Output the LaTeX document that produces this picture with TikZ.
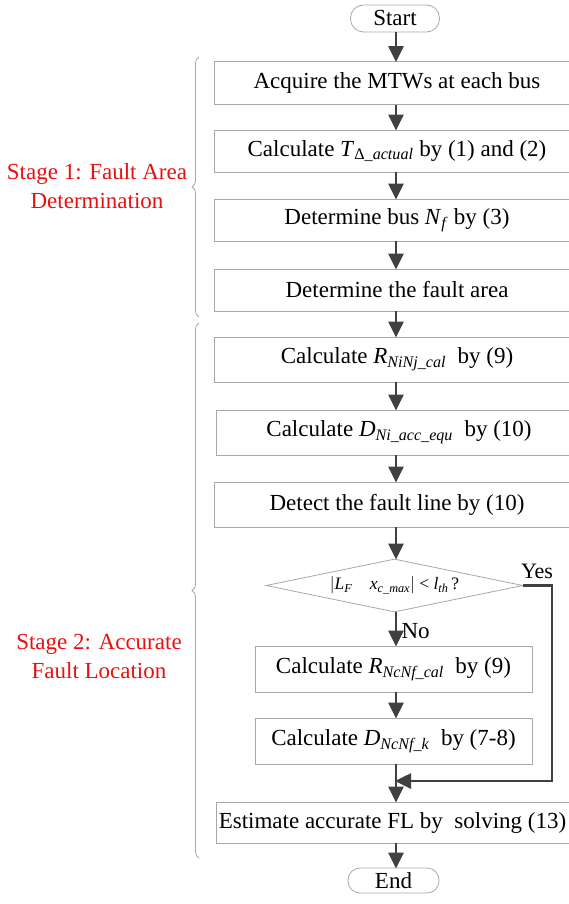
\documentclass[tikz,border=0pt]{standalone}
\usepackage{fontspec}
\setmainfont{Liberation Serif}
\usetikzlibrary{arrows.meta,shapes.geometric,decorations.pathreplacing}
\definecolor{arrgray}{HTML}{404040}
\definecolor{boxgray}{HTML}{A8A8A8}
\definecolor{stagered}{HTML}{E81010}
\newcommand{\iv}[2]{\textit{#1}\textsubscript{\textit{#2}}}
\begin{document}
\begin{tikzpicture}[x=1pt,y=-1pt,
  every node/.style={font=\fontsize{23}{28}\selectfont},
  stepbox/.style={draw=boxgray, line width=0.8pt, minimum width=366pt, minimum height=43pt, inner sep=0pt},
  termbox/.style={draw=boxgray, line width=0.8pt, rounded corners=13pt, minimum width=89pt, minimum height=27pt, inner sep=0pt},
  decbox/.style={draw=boxgray, line width=0.8pt, diamond, aspect=4.85, minimum width=257pt, minimum height=53pt, inner sep=0pt},
  arr/.style={draw=arrgray, line width=2.6pt, -{Triangle[length=16pt,width=15pt]}, shorten >=-1pt},
  bracestyle/.style={draw=boxgray, line width=0.8pt, decorate, decoration={brace, amplitude=7pt, raise=0pt}},
  stagetext/.style={text=stagered, align=center, font=\fontsize{23}{29}\selectfont}
  ]
\useasboundingbox (0,0) rectangle (569,904);
\clip (0,0) rectangle (569,904);

\node[termbox] (start) at (395,18.5) {Start};
\node[stepbox] (b1) at (397,83) {Acquire the MTWs at each bus};
\node[stepbox, minimum height=42pt] (b2) at (397,151) {Calculate \textit{T}\textsubscript{Δ\textit{\_actual}} by (1) and (2)};
\node[stepbox, minimum height=42pt] (b3) at (397,220) {Determine bus \iv{N}{f} by (3)};
\node[stepbox, minimum height=42pt] (b4) at (397,290) {Determine the fault area};
\node[stepbox, minimum height=45pt] (b5) at (397,359.5) {Calculate \iv{R}{NiNj\_cal}\ \ by (9)};
\node[stepbox, minimum height=45pt] (b6) at (399,432.5) {Calculate \iv{D}{Ni\_acc\_equ}\ \ by (10)};
\node[stepbox, minimum height=45pt] (b7) at (397,504.5) {Detect the fault line by (10)};
\node[decbox] (dia) at (394.5,585.5) {\fontsize{17.5}{20}\selectfont $|$\iv{L}{F}\quad\iv{x}{c\_max}$|$ < \iv{l}{th}\,?};
\node[stepbox, minimum width=277pt, minimum height=46pt] (b8) at (393.5,669) {Calculate \iv{R}{NcNf\_cal}\ \ by (9)};
\node[stepbox, minimum width=277pt, minimum height=46pt] (b9) at (393.5,741) {Calculate \iv{D}{NcNf\_k}\ \ by (7-8)};
\node[stepbox, minimum width=353pt, minimum height=41pt] (b10) at (392.5,822.5) {Estimate accurate FL by\ \ solving (13)};
\node[termbox, minimum width=91pt, minimum height=25pt, rounded corners=12pt] (end) at (393.5,880.5) {End};

\coordinate (axis) at (396,0);
\coordinate (yx) at (552,0);
\coordinate (merge) at (396,781);

\draw[arr] (start.south -| axis) -- (b1.north -| axis);
\draw[arr] (b1.south -| axis) -- (b2.north -| axis);
\draw[arr] (b2.south -| axis) -- (b3.north -| axis);
\draw[arr] (b3.south -| axis) -- (b4.north -| axis);
\draw[arr] (b4.south -| axis) -- (b5.north -| axis);
\draw[arr] (b5.south -| axis) -- (b6.north -| axis);
\draw[arr] (b6.south -| axis) -- (b7.north -| axis);
\draw[arr] (b7.south -| axis) -- (dia.north -| axis);
\draw[arr] (dia.south -| axis) -- node[right, xshift=1pt, yshift=-2pt] (nolab) {No} (b8.north -| axis);
\draw[arr] (b8.south -| axis) -- (b9.north -| axis);
\draw[arr] (b9.south -| axis) -- (b10.north -| axis);
\draw[arr] (b10.south -| axis) -- (end.north -| axis);
\draw[arr, rounded corners=0pt] (dia.east) -- (dia.east -| yx) |- (merge);
\node[font=\fontsize{22}{26}\selectfont] (yeslab) at (537,571) {Yes};

\draw[bracestyle] (199,317) -- (199,57);
\draw[bracestyle] (199,858) -- (199,323);

\node[stagetext] (s1) at (97,186) {Stage 1: Fault Area\\Determination};
\node[stagetext] (s2) at (99,656) {Stage 2: Accurate\\Fault Location};
\end{tikzpicture}
\end{document}
